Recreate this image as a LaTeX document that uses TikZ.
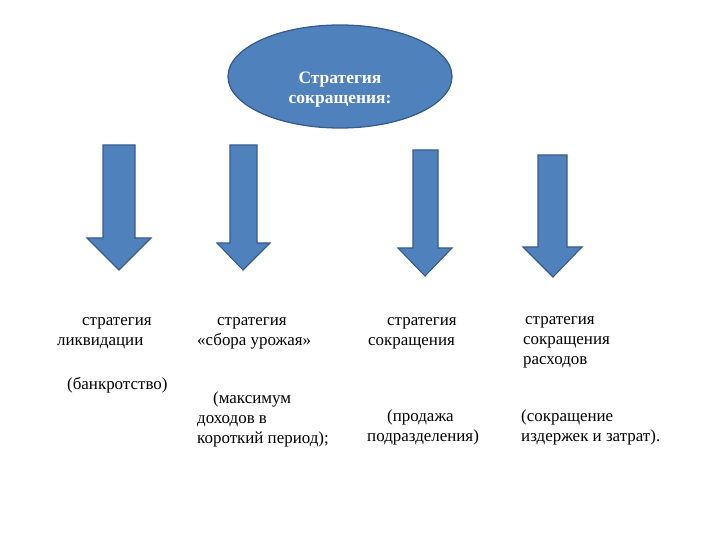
\documentclass[tikz,border=0pt]{standalone}
\usepackage{fontspec}
\setmainfont{Liberation Serif}
\usetikzlibrary{shapes.geometric}

\definecolor{slideblue}{HTML}{4F81BD}
\definecolor{slideline}{HTML}{385D8A}

\begin{document}
\begin{tikzpicture}[
  x=1bp, y=-1bp,
  goal/.style={ellipse, draw=slideline, line width=1.3pt, fill=slideblue, minimum width=224bp, minimum height=103bp},
  goaltext/.style={anchor=base, align=center, inner sep=0pt, text=white, font=\bfseries\fontsize{17.5}{20.5}\selectfont},
  blockarrow/.style={draw=slideline, line width=1.1pt, fill=slideblue, line join=miter},
  caption/.style={anchor=base west, align=left, inner sep=0pt, font=\fontsize{17}{19.8}\selectfont}
]

\useasboundingbox (0,0) rectangle (720,540);

\node[goal] (goal) at (340,76.5) {};
\node[goaltext] (goaltitle) at (340,104) {Стратегия\\сокращения:};

% block arrows
\draw[blockarrow] (103,145) -- (135,145) -- (135,238) -- (151,238) -- (119,270) -- (87,238) -- (103,238) -- cycle;
\draw[blockarrow] (230,145) -- (257,145) -- (257,243) -- (270,243) -- (243,270) -- (217,243) -- (230,243) -- cycle;
\draw[blockarrow] (413,150) -- (438,150) -- (438,248) -- (452,248) -- (425,276) -- (398,248) -- (413,248) -- cycle;
\draw[blockarrow] (538,155) -- (567,155) -- (567,247) -- (582,247) -- (553,277) -- (523,247) -- (538,247) -- cycle;

% strategies (anchored at the baseline of the last line)
\node[caption] (liquid) at (57,345) {\hspace*{25bp}стратегия\\ликвидации};
\node[caption] (harvest) at (197,345) {\hspace*{20bp}стратегия\\«сбора урожая»};
\node[caption] (divest) at (368,345) {\hspace*{19bp}стратегия\\сокращения};
\node[caption] (costs) at (523,364) {\hspace*{2bp}стратегия\\сокращения\\расходов};

% explanations
\node[caption] (bankrupt) at (67,389) {(банкротство)};
\node[caption] (maxinc) at (197,443) {\hspace*{16bp}(максимум\\доходов в\\короткий период);};
\node[caption] (sale) at (367,441) {\hspace*{20bp}(продажа\\подразделения)};
\node[caption] (cutcost) at (521,441) {(сокращение\\издержек и затрат).};

\end{tikzpicture}
\end{document}
